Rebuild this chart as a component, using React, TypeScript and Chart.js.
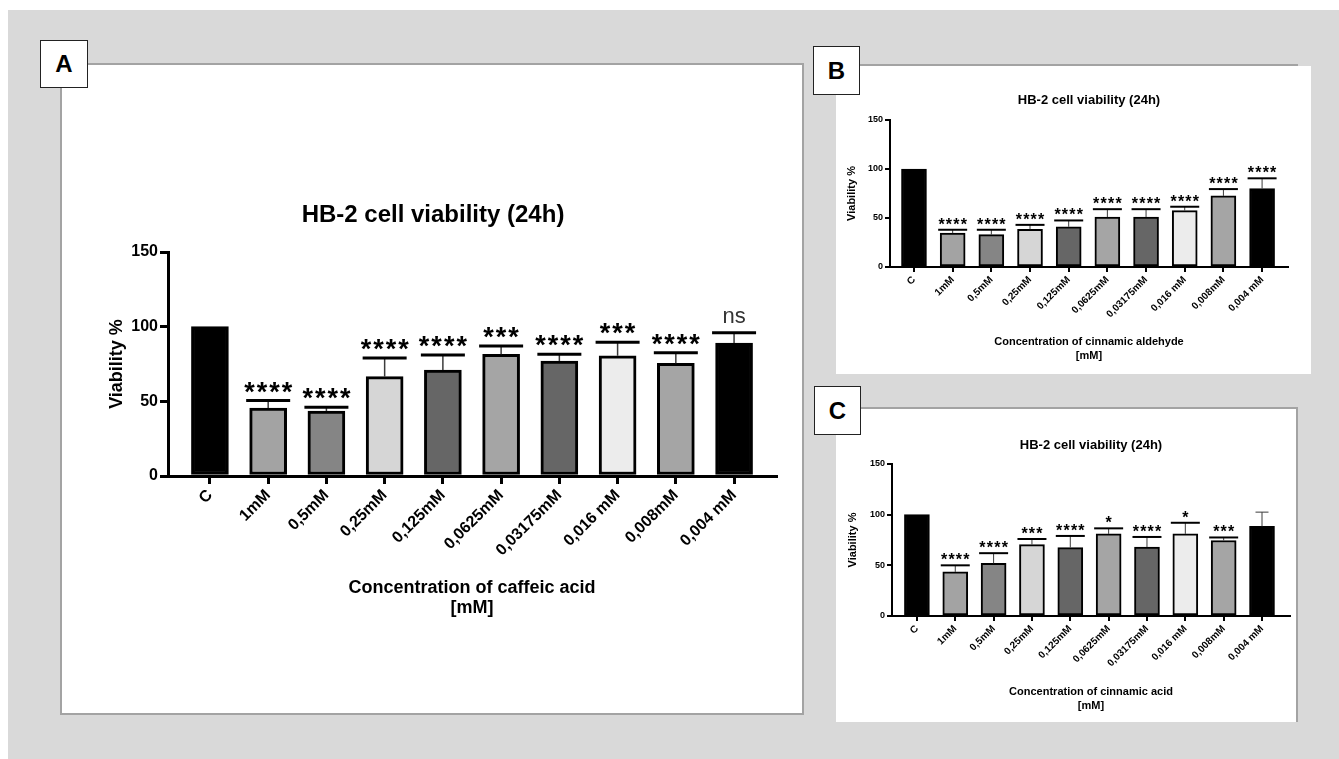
import React, { useEffect, useRef } from 'react';
import { Chart, registerables } from 'chart.js';

Chart.register(...registerables);

const FONT = '"Liberation Sans", Arial, Helvetica, sans-serif';

const categories = ['C', '1mM', '0,5mM', '0,25mM', '0,125mM', '0,0625mM', '0,03175mM', '0,016 mM', '0,008mM', '0,004 mM'];
const barColors = ['#000000', '#a3a3a3', '#858585', '#d6d6d6', '#666666', '#a5a5a5', '#666666', '#ececec', '#a5a5a5', '#000000'];
const yTicks = [0, 50, 100, 150];
const chartTitle = 'HB-2 cell viability (24h)';
const yTitle = 'Viability %';

// Panel A: caffeic acid
const caffeicMeans = [100, 45.5, 43.5, 66.5, 71, 81.5, 77, 80.5, 75.5, 89];
const caffeicErrors = [0, 5, 2.5, 12.5, 10, 5.5, 4.5, 9, 7, 7];
const caffeicSig = ['', '****', '****', '****', '****', '***', '****', '***', '****', 'ns'];
const caffeicTitle = ['Concentration of caffeic acid', '[mM]'];

// Panel B: cinnamic aldehyde
const aldehydeMeans = [100, 34.5, 33, 38.5, 41, 51, 51, 57.5, 72.5, 80];
const aldehydeErrors = [0, 3.5, 5, 4.5, 6.5, 8, 8, 4, 7, 10.5];
const aldehydeSig = ['', '****', '****', '****', '****', '****', '****', '****', '****', '****'];
const aldehydeTitle = ['Concentration of cinnamic aldehyde', '[mM]'];

// Panel C: cinnamic acid
const acidMeans = [100, 43.5, 52, 70.5, 67.5, 81, 68, 81, 74.5, 88.5];
const acidErrors = [0, 6.5, 10, 5.5, 11.5, 5.5, 10, 11, 3, 14];
const acidSig = ['', '****', '****', '***', '****', '*', '****', '*', '***', ''];
const acidTitle = ['Concentration of cinnamic acid', '[mM]'];

type Style = {
  width: number; height: number;
  pad: { left: number; right: number; top: number; bottom: number };
  yWidth: number; xHeight: number; xMin: number; xMax: number;
  titleSize: number; titlePadBottom: number; titleFullSize: boolean;
  yTitleSize: number; yTitlePad: number; yTickSize: number;
  xTickSize: number; xTitleSize: number; xTitleLH: number;
  barThickness: number; borderWidth: number; axisWidth: number; tickLength: number;
  capWidth: number; capThickness: number; errWidth: number; thinCapWidth: number;
  starSize: number; starSpacing: number; starOffset: number; nsSize: number; nsOffset: number;
};

const styleA: Style = {
  width: 740, height: 648,
  pad: { left: 28, right: 26, top: 135.6, bottom: 95 },
  yWidth: 78, xHeight: 142, xMin: -0.72, xMax: 9.72,
  titleSize: 24, titlePadBottom: 22.6, titleFullSize: true,
  yTitleSize: 18, yTitlePad: 16.2, yTickSize: 16,
  xTickSize: 16, xTitleSize: 18, xTitleLH: 1.12,
  barThickness: 37, borderWidth: 3, axisWidth: 3, tickLength: 8,
  capWidth: 44, capThickness: 3, errWidth: 1.5, thinCapWidth: 20,
  starSize: 27, starSpacing: 2, starOffset: 0, nsSize: 22, nsOffset: 10,
};

const styleB: Style = {
  width: 473, height: 306,
  pad: { left: 5, right: 22, top: 25.2, bottom: 10 },
  yWidth: 48, xHeight: 96, xMin: -0.62, xMax: 9.67,
  titleSize: 13, titlePadBottom: 12.2, titleFullSize: false,
  yTitleSize: 11, yTitlePad: 3.4, yTickSize: 9,
  xTickSize: 10, xTitleSize: 11, xTitleLH: 1.27,
  barThickness: 25, borderWidth: 2, axisWidth: 2, tickLength: 5,
  capWidth: 29, capThickness: 2, errWidth: 1, thinCapWidth: 13,
  starSize: 16, starSpacing: 1.2, starOffset: 0, nsSize: 13, nsOffset: 6,
};

const styleC: Style = {
  ...styleB,
  width: 460, height: 312,
  pad: { left: 5, right: 7, top: 28.2, bottom: 8 },
  yWidth: 50, xHeight: 97, xMin: -0.65, xMax: 9.73,
  titlePadBottom: 11.2, yTitlePad: 4.4,
};

function makeErrorPlugin(means: number[], errors: number[], sig: string[], s: Style) {
  return {
    id: 'errbars',
    afterDatasetsDraw(chart: any) {
      const { ctx } = chart;
      const x = chart.scales.x;
      const y = chart.scales.y;
      ctx.save();
      means.forEach((m, i) => {
        const e = errors[i];
        if (!e) return;
        const px = x.getPixelForValue(i);
        const top = y.getPixelForValue(m);
        const cap = y.getPixelForValue(m + e);
        ctx.strokeStyle = '#3c3c3c';
        ctx.lineWidth = s.errWidth;
        ctx.beginPath();
        ctx.moveTo(px, top);
        ctx.lineTo(px, cap);
        ctx.stroke();
        const label = sig[i];
        if (label) {
          ctx.strokeStyle = '#000';
          ctx.lineWidth = s.capThickness;
          ctx.beginPath();
          ctx.moveTo(px - s.capWidth / 2, cap);
          ctx.lineTo(px + s.capWidth / 2, cap);
          ctx.stroke();
          ctx.textAlign = 'center';
          ctx.textBaseline = 'alphabetic';
          if (label === 'ns') {
            ctx.font = `${s.nsSize}px ${FONT}`;
            ctx.fillStyle = '#333';
            (ctx as any).letterSpacing = '0px';
            ctx.fillText(label, px, cap - s.nsOffset);
          } else {
            ctx.font = `bold ${s.starSize}px ${FONT}`;
            ctx.fillStyle = '#000';
            (ctx as any).letterSpacing = `${s.starSpacing}px`;
            ctx.fillText(label, px + s.starSpacing / 2, cap - s.starOffset);
            (ctx as any).letterSpacing = '0px';
          }
        } else {
          ctx.strokeStyle = '#3c3c3c';
          ctx.lineWidth = s.errWidth;
          ctx.beginPath();
          ctx.moveTo(px - s.thinCapWidth / 2, cap);
          ctx.lineTo(px + s.thinCapWidth / 2, cap);
          ctx.stroke();
        }
      });
      ctx.restore();
    },
  };
}

function BarPanel(props: { means: number[]; errors: number[]; sig: string[]; xTitle: string[]; s: Style; left: number; top: number }) {
  const ref = useRef<HTMLCanvasElement | null>(null);
  const { means, errors, sig, xTitle, s } = props;
  useEffect(() => {
    if (!ref.current) return;
    const chart = new Chart(ref.current, {
      type: 'bar',
      data: {
        datasets: [
          {
            data: means.map((v, i) => ({ x: i, y: v })),
            backgroundColor: barColors,
            borderColor: '#000',
            borderWidth: s.borderWidth,
            borderSkipped: false,
            barThickness: s.barThickness,
          } as any,
        ],
      },
      options: {
        responsive: false,
        animation: false,
        devicePixelRatio: 1,
        layout: { padding: s.pad },
        plugins: {
          legend: { display: false },
          tooltip: { enabled: false },
          title: {
            display: true,
            text: chartTitle,
            color: '#000',
            fullSize: s.titleFullSize,
            font: { family: FONT, size: s.titleSize, weight: 'bold', lineHeight: 1.2 },
            padding: { top: 0, bottom: s.titlePadBottom },
          },
        },
        scales: {
          x: {
            type: 'linear',
            min: s.xMin,
            max: s.xMax,
            offset: false,
            grid: { display: true, offset: false, drawOnChartArea: false, drawTicks: true, tickLength: s.tickLength, lineWidth: s.axisWidth, color: '#000' },
            border: { display: true, width: s.axisWidth, color: '#000' },
            ticks: {
              stepSize: 1,
              includeBounds: false,
              autoSkip: false,
              minRotation: 45,
              maxRotation: 45,
              padding: 2,
              color: '#000',
              font: { family: FONT, size: s.xTickSize, weight: 'bold' },
              callback: (v: any) => categories[v] ?? '',
            },
            title: {
              display: true,
              text: xTitle,
              color: '#000',
              font: { family: FONT, size: s.xTitleSize, weight: 'bold', lineHeight: s.xTitleLH },
              padding: { top: 0, bottom: 0 },
            },
            afterFit: (sc: any) => { sc.height = s.xHeight; },
          } as any,
          y: {
            min: yTicks[0],
            max: yTicks[yTicks.length - 1],
            grid: { display: true, offset: false, drawOnChartArea: false, drawTicks: true, tickLength: s.tickLength, lineWidth: s.axisWidth, color: '#000' },
            border: { display: true, width: s.axisWidth, color: '#000' },
            ticks: {
              stepSize: yTicks[1] - yTicks[0],
              padding: 2,
              color: '#000',
              font: { family: FONT, size: s.yTickSize, weight: 'bold' },
            },
            title: {
              display: true,
              text: yTitle,
              color: '#000',
              font: { family: FONT, size: s.yTitleSize, weight: 'bold', lineHeight: 1.2 },
              padding: { top: s.yTitlePad, bottom: 0 },
            },
            afterFit: (sc: any) => { sc.width = s.yWidth; },
          } as any,
        },
      } as any,
      plugins: [makeErrorPlugin(means, errors, sig, s)],
    });
    return () => chart.destroy();
  }, []);
  return (
    <div style={{ position: 'absolute', left: props.left, top: props.top, width: s.width, height: s.height }}>
      <canvas ref={ref} width={s.width} height={s.height} style={{ width: s.width, height: s.height, display: 'block' }} />
    </div>
  );
}

function LabelBox(props: { text: string; left: number; top: number; w: number; h: number }) {
  return (
    <div
      style={{
        position: 'absolute', left: props.left, top: props.top, width: props.w, height: props.h,
        boxSizing: 'border-box', background: '#fff', border: '1.5px solid #222',
        display: 'flex', alignItems: 'center', justifyContent: 'center',
        fontFamily: FONT, fontWeight: 'bold', fontSize: 24, color: '#000',
      }}
    >
      {props.text}
    </div>
  );
}

export default function App() {
  return (
    <div style={{ position: 'fixed', left: 0, top: 0, width: 1339, height: 759, background: '#fff', overflow: 'hidden' }}>
      <div style={{ position: 'absolute', left: 8, top: 10, width: 1331, height: 749, background: '#d9d9d9' }} />
      {/* Panel A */}
      <div style={{ position: 'absolute', left: 60, top: 63, width: 744, height: 652, boxSizing: 'border-box', background: '#fff', border: '2px solid #a3a3a3' }} />
      {/* Panel B */}
      <div style={{ position: 'absolute', left: 836, top: 66, width: 475, height: 308, background: '#fff' }} />
      <div style={{ position: 'absolute', left: 836, top: 64, width: 462, height: 2, background: '#a3a3a3' }} />
      {/* Panel C */}
      <div style={{ position: 'absolute', left: 836, top: 407, width: 462, height: 315, boxSizing: 'border-box', background: '#fff', borderTop: '2px solid #a3a3a3', borderRight: '2px solid #a3a3a3' }} />

      <BarPanel means={caffeicMeans} errors={caffeicErrors} sig={caffeicSig} xTitle={caffeicTitle} s={styleA} left={62} top={65} />
      <BarPanel means={aldehydeMeans} errors={aldehydeErrors} sig={aldehydeSig} xTitle={aldehydeTitle} s={styleB} left={837} top={67} />
      <BarPanel means={acidMeans} errors={acidErrors} sig={acidSig} xTitle={acidTitle} s={styleC} left={837} top={409} />

      <LabelBox text="A" left={40} top={40} w={48} h={48} />
      <LabelBox text="B" left={813} top={46} w={47} h={49} />
      <LabelBox text="C" left={814} top={386} w={47} h={49} />
    </div>
  );
}
